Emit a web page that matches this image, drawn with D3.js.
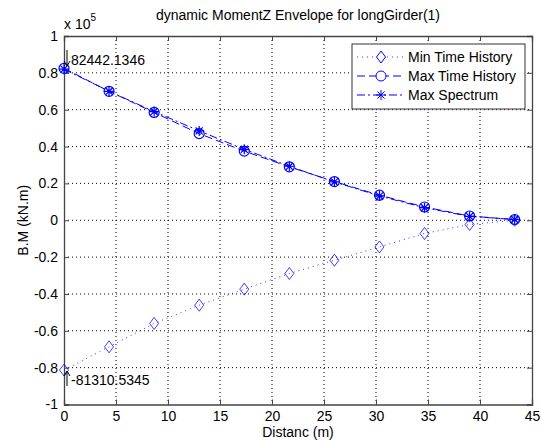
<!DOCTYPE html>
<html><head><meta charset="utf-8">
<script src="https://cdn.jsdelivr.net/npm/d3@7"></script>
<style>body{margin:0;background:#fff}svg{display:block;font-family:"Liberation Sans",Arial,sans-serif}</style>
</head><body>
<svg id="c" width="541" height="441"></svg>
<script>
const distances = [0, 4.333, 8.667, 13, 17.333, 21.667, 26, 30.333, 34.667, 39, 43.333];
const minTimeHistory = [-81310.5345, -68700, -56000, -46100, -37400, -28900, -21700, -14500, -7200, -2300, 0];
const maxTimeHistory = [82442.1346, 70000, 58500, 47000, 37500, 29000, 21000, 13600, 7200, 2300, 400];
const maxSpectrum = [82000, 70000, 59000, 48500, 38500, 29300, 20800, 13200, 6800, 2100, 400];
const xTicks = [0, 5, 10, 15, 20, 25, 30, 35, 40, 45];
const yTicks = [-1, -0.8, -0.6, -0.4, -0.2, 0, 0.2, 0.4, 0.6, 0.8, 1];
const seriesNames = ["Min Time History", "Max Time History", "Max Spectrum"];

const svg = d3.select("#c");
const L = 64, R = 532, T = 36, B = 404.5;
const x = d3.scaleLinear().domain([0, 45]).range([L, R]);
const y = d3.scaleLinear().domain([-1e5, 1e5]).range([B, T]);
const blue = "#0000ff";
const FS = 14;

// grid
const g = svg.append("g");
xTicks.forEach(t => { if (t > 0 && t < 45) g.append("line").attr("x1", x(t)).attr("x2", x(t)).attr("y1", T).attr("y2", B).attr("stroke", "#000").attr("stroke-width", 1).attr("stroke-dasharray", "1,3"); });
yTicks.forEach(t => { if (t > -1 && t < 1) g.append("line").attr("x1", L).attr("x2", R).attr("y1", y(t * 1e5)).attr("y2", y(t * 1e5)).attr("stroke", "#000").attr("stroke-width", 1).attr("stroke-dasharray", "1,3"); });

// axes
const yFmt = d => { const v = Math.round(d / 1e4) / 10; return String(v).replace("\u2212", "-"); };
const axB = d3.axisBottom(x).tickValues(xTicks).tickSize(-5).tickPadding(7).tickFormat(d => String(d));
const axT = d3.axisTop(x).tickValues(xTicks).tickSize(-5).tickFormat("");
const axLf = d3.axisLeft(y).tickValues(yTicks.map(v => v * 1e5)).tickSize(-5).tickPadding(6).tickFormat(yFmt);
const axRt = d3.axisRight(y).tickValues(yTicks.map(v => v * 1e5)).tickSize(-5).tickFormat("");
function style(sel) { sel.select(".domain").attr("stroke", "#444"); sel.selectAll(".tick line").attr("stroke", "#444"); sel.selectAll("text").attr("font-size", FS).attr("fill", "#000").attr("font-family", "'Liberation Sans',Arial,sans-serif"); }
svg.append("g").attr("transform", `translate(0,${B})`).call(axB).call(style);
svg.append("g").attr("transform", `translate(0,${T})`).call(axT).call(style);
svg.append("g").attr("transform", `translate(${L},0)`).call(axLf).call(style);
svg.append("g").attr("transform", `translate(${R},0)`).call(axRt).call(style);
svg.selectAll(".domain").attr("stroke-width", 1.3);

// lines
const line = d3.line().x((d, i) => x(distances[i])).y(d => y(d));
svg.append("path").attr("d", line(minTimeHistory)).attr("fill", "none").attr("stroke", blue).attr("stroke-width", 1).attr("stroke-dasharray", "1,4").attr("opacity", 0.8);
svg.append("path").attr("d", line(maxTimeHistory)).attr("fill", "none").attr("stroke", blue).attr("stroke-width", 1).attr("stroke-dasharray", "8,4");
svg.append("path").attr("d", line(maxSpectrum)).attr("fill", "none").attr("stroke", blue).attr("stroke-width", 1).attr("stroke-dasharray", "8,3,2,3");

const diamond = (cx, cy) => `M${cx},${cy - 6}L${cx + 4.5},${cy}L${cx},${cy + 6}L${cx - 4.5},${cy}Z`;
const star = (cx, cy) => { const r = 5; let p = ""; for (let k = 0; k < 4; k++) { const a = k * Math.PI / 4; p += `M${cx - r * Math.cos(a)},${cy - r * Math.sin(a)}L${cx + r * Math.cos(a)},${cy + r * Math.sin(a)}`; } return p; };

svg.append("g").selectAll("path").data(minTimeHistory).join("path").attr("d", (d, i) => diamond(x(distances[i]), y(d))).attr("fill", "none").attr("stroke", blue).attr("stroke-width", 1).attr("opacity", 0.75);
svg.append("g").selectAll("circle").data(maxTimeHistory).join("circle").attr("cx", (d, i) => x(distances[i])).attr("cy", d => y(d)).attr("r", 5).attr("fill", "none").attr("stroke", blue).attr("stroke-width", 1.2);
svg.append("g").selectAll("path").data(maxSpectrum).join("path").attr("d", (d, i) => star(x(distances[i]), y(d))).attr("fill", "none").attr("stroke", blue).attr("stroke-width", 1.2);

// data tips
const tipFmt = v => d3.format(".4f")(v).replace("\u2212", "-");
svg.append("line").attr("x1", 67).attr("x2", 67).attr("y1", 50).attr("y2", 65).attr("stroke", "#000");
svg.append("path").attr("d", "M64,61L67,66L70,61").attr("fill", "none").attr("stroke", "#000");
svg.append("text").attr("x", 71).attr("y", 65).attr("font-size", FS).text(tipFmt(maxTimeHistory[0]));
svg.append("line").attr("x1", 67).attr("x2", 67).attr("y1", 372).attr("y2", 386).attr("stroke", "#000");
svg.append("path").attr("d", "M64,376L67,371L70,376").attr("fill", "none").attr("stroke", "#000");
svg.append("text").attr("x", 71).attr("y", 385).attr("font-size", FS).text(tipFmt(minTimeHistory[0]));

// title / labels
svg.append("text").attr("x", (L + R) / 2).attr("y", 20).attr("text-anchor", "middle").attr("font-size", FS).text("dynamic MomentZ Envelope for longGirder(1)");
svg.append("text").attr("x", (L + R) / 2).attr("y", 437).attr("text-anchor", "middle").attr("font-size", FS).text("Distanc (m)");
svg.append("text").attr("transform", `translate(28,${(T + B) / 2}) rotate(-90)`).attr("text-anchor", "middle").attr("font-size", FS).text("B.M (kN.m)");
const ex = svg.append("text").attr("x", 64).attr("y", 29).attr("font-size", FS);
ex.append("tspan").text("x 10");
ex.append("tspan").attr("dy", -8).attr("font-size", 10).text("5");

// legend
const lg = svg.append("g");
lg.append("rect").attr("x", 352).attr("y", 44).attr("width", 173).attr("height", 65).attr("fill", "#fff").attr("stroke", "#333");
const ly = [57, 76, 95];
const dashes = ["1,4", "8,4", "8,3,2,3"];
seriesNames.forEach((n, i) => {
  lg.append("line").attr("x1", 357).attr("x2", 404).attr("y1", ly[i]).attr("y2", ly[i]).attr("stroke", blue).attr("stroke-dasharray", dashes[i]).attr("opacity", i === 0 ? 0.8 : 1);
  if (i === 0) lg.append("path").attr("d", diamond(381, ly[i])).attr("fill", "#fff").attr("stroke", blue);
  if (i === 1) lg.append("circle").attr("cx", 381).attr("cy", ly[i]).attr("r", 5).attr("fill", "#fff").attr("stroke", blue);
  if (i === 2) lg.append("path").attr("d", star(381, ly[i])).attr("stroke", blue);
  lg.append("text").attr("x", 408).attr("y", ly[i] + 5).attr("font-size", FS).text(n);
});
</script>
</body></html>
